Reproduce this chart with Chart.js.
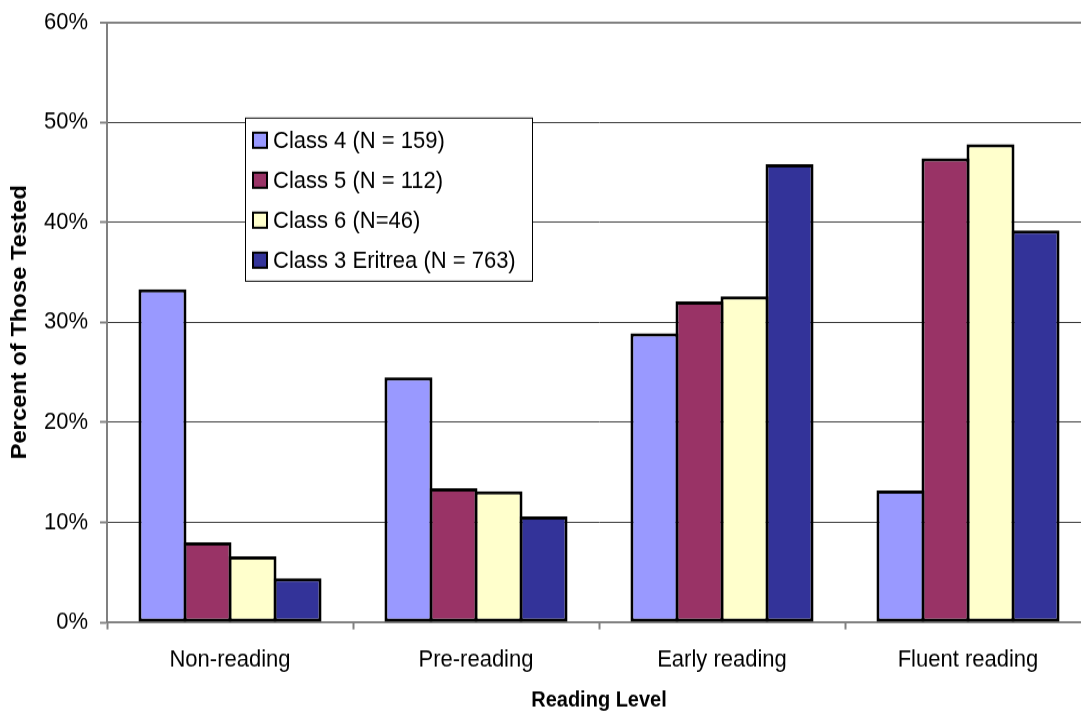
<!DOCTYPE html>
<html>
<head>
<meta charset="utf-8">
<title>Reading Level</title>
<script src="https://cdn.jsdelivr.net/npm/chart.js@4.4.1/dist/chart.umd.min.js"></script>
<style>
  html { overflow: hidden; background: #fff; }
  body { margin: 0; padding: 0; width: 1100px; height: 713px; background: #fff; }
  #wrap { position: absolute; left: 0; top: 0; width: 1100px; height: 660px; transform: scaleY(1.0803); transform-origin: 0 0; }
</style>
</head>
<body>
<div id="wrap"><canvas id="chart" width="1100" height="660"></canvas></div>
<script>
// Reading levels on the category axis
const categories = ['Non-reading', 'Pre-reading', 'Early reading', 'Fluent reading'];

// Percent of pupils tested at each reading level
const class4 = [33.3, 24.5, 28.9, 13.2];
const class5 = [8.0, 13.4, 32.1, 46.4];
const class6 = [6.6, 13.1, 32.6, 47.8];
const class3Eritrea = [4.4, 10.6, 45.8, 39.2];

const seriesLabels = ['Class 4 (N = 159)', 'Class 5 (N = 112)', 'Class 6 (N=46)', 'Class 3 Eritrea (N = 763)'];
const seriesColors = ['#9999FF', '#993366', '#FFFFCC', '#333399'];

// Value axis ticks
const yTicks = [0, 10, 20, 30, 40, 50, 60];

const FONT = "'Liberation Sans', Arial, Helvetica, sans-serif";
Chart.defaults.font.family = FONT;
Chart.defaults.color = '#000';

const seriesValues = [class4, class5, class6, class3Eritrea];

// Boxed legend drawn inside the plot area
const boxLegend = {
  id: 'boxLegend',
  afterDraw(chart) {
    const ctx = chart.ctx;
    const area = chart.chartArea;
    const x0 = area.left + 138, y0 = area.top + 88.7;
    const w = 287, h = 151;
    ctx.save();
    ctx.fillStyle = '#fff';
    ctx.fillRect(x0, y0, w, h);
    ctx.strokeStyle = '#000';
    ctx.lineWidth = 1;
    ctx.strokeRect(x0 + 0.5, y0, w, h);
    ctx.font = '22px ' + FONT;
    ctx.textBaseline = 'middle';
    ctx.textAlign = 'left';
    chart.data.datasets.forEach((ds, i) => {
      const cy = y0 + 20.5 + i * 37;
      ctx.fillStyle = ds.backgroundColor;
      ctx.fillRect(x0 + 8, cy - 7, 14, 14);
      ctx.strokeStyle = '#000';
      ctx.lineWidth = 2;
      ctx.strokeRect(x0 + 8, cy - 7, 14, 14);
      ctx.fillStyle = '#000';
      ctx.fillText(ds.label, x0 + 28, cy + 1);
    });
    ctx.restore();
  }
};

new Chart(document.getElementById('chart'), {
  type: 'bar',
  data: {
    labels: categories,
    datasets: seriesValues.map((vals, i) => ({
      label: seriesLabels[i],
      data: vals,
      backgroundColor: seriesColors[i],
      borderColor: '#000',
      borderWidth: 3,
      borderSkipped: false,
      categoryPercentage: 0.732,
      barPercentage: 1.0667
    }))
  },
  options: {
    responsive: false,
    animation: false,
    devicePixelRatio: 1,
    layout: { padding: { top: 20.6, right: 9, bottom: 0, left: 0 } },
    plugins: {
      legend: { display: false },
      tooltip: { enabled: false }
    },
    scales: {
      x: {
        offset: true,
        grid: {
          offset: true,
          drawOnChartArea: false,
          drawTicks: true,
          tickLength: 6.5,
          tickColor: '#808080',
          tickWidth: 2
        },
        border: { display: true, color: '#808080', width: 2 },
        ticks: { font: { size: 22 }, padding: 15, maxRotation: 0 },
        title: {
          display: true,
          text: 'Reading Level',
          font: { size: 20, weight: 'bold' },
          padding: { top: 0, bottom: 0 }
        },
        afterFit(scale) { scale.height = 83.9; }
      },
      y: {
        min: 0,
        max: 60,
        afterBuildTicks(scale) { scale.ticks = yTicks.map(v => ({ value: v })); },
        grid: {
          color: ctx => (ctx.tick && ctx.tick.value === 60) ? '#808080' : '#3a3a3a',
          lineWidth: ctx => (ctx.tick && ctx.tick.value === 60) ? 2 : 1,
          tickLength: 7,
          tickColor: '#808080',
          tickWidth: 2
        },
        border: { display: true, color: '#808080', width: 2 },
        ticks: {
          font: { size: 22 },
          padding: 12,
          callback: v => v + '%'
        },
        title: {
          display: true,
          text: 'Percent of Those Tested',
          font: { size: 22, weight: 'bold' },
          padding: { top: 7, bottom: 0 }
        },
        afterFit(scale) {
          scale.width = 107;
          scale.paddingTop = 0;
          scale.paddingBottom = 0;
        }
      }
    }
  },
  plugins: [boxLegend]
});
</script>
</body>
</html>
